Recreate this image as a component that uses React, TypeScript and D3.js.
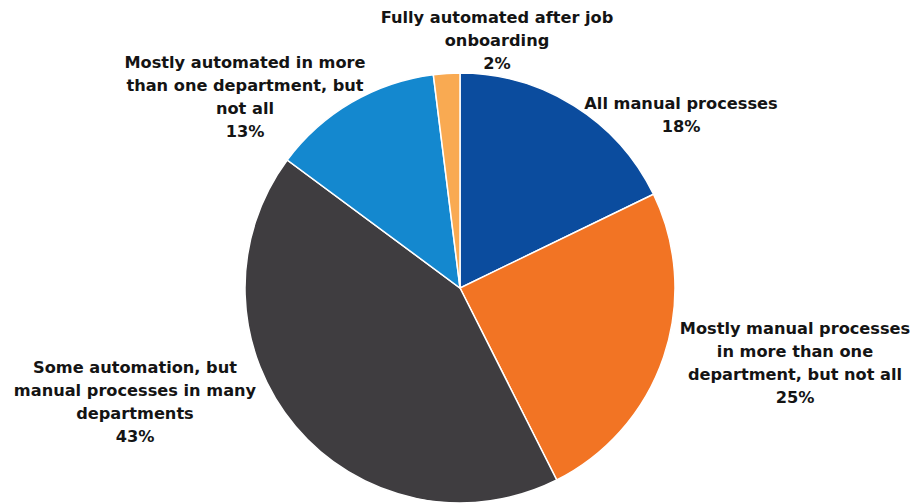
import * as d3 from "d3";

const categories = [
  "All manual processes",
  "Mostly manual processes in more than one department, but not all",
  "Some automation, but manual processes in many departments",
  "Mostly automated in more than one department, but not all",
  "Fully automated after job onboarding",
];
const values = [18, 25, 43, 13, 2];
const labelLines = [
  ["All manual processes"],
  ["Mostly manual processes", "in more than one", "department, but not all"],
  ["Some automation, but", "manual processes in many", "departments"],
  ["Mostly automated in more", "than one department, but", "not all"],
  ["Fully automated after job", "onboarding"],
];
const colors = ["#0b4c9e", "#f27424", "#3f3d40", "#1488cf", "#f9aa52"];

// label block centres (x, first-line y), tuned by eye
const labelPos: [number, number][] = [
  [681, 104],
  [795, 329],
  [135, 368],
  [245, 63],
  [497, 18],
];

const W = 912;
const H = 503;
const cx = 460;
const cy = 288;
const r = 215;
const lineH = 23;

export default function App() {
  const pie = d3
    .pie<number>()
    .sort(null)
    .value((d) => d);
  const arcs = pie(values);
  const arc = d3.arc<d3.PieArcDatum<number>>().innerRadius(0).outerRadius(r);

  return (
    <svg
      width={W}
      height={H}
      style={{ position: "absolute", left: 0, top: 0, background: "#fff" }}
      fontFamily="'DejaVu Sans', sans-serif"
    >
      <g transform={`translate(${cx},${cy})`}>
        {arcs.map((a, i) => (
          <path key={categories[i]} d={arc(a) ?? ""} fill={colors[i]} stroke="#fff" strokeWidth={1.5} />
        ))}
      </g>
      {labelLines.map((lines, i) => (
        <text
          key={categories[i]}
          textAnchor="middle"
          fontSize={16.2}
          fontWeight="bold"
          fill="#141414"
          dominantBaseline="middle"
        >
          {[...lines, `${values[i]}%`].map((l, j) => (
            <tspan key={j} x={labelPos[i][0]} y={labelPos[i][1] + j * lineH}>
              {l}
            </tspan>
          ))}
        </text>
      ))}
    </svg>
  );
}
